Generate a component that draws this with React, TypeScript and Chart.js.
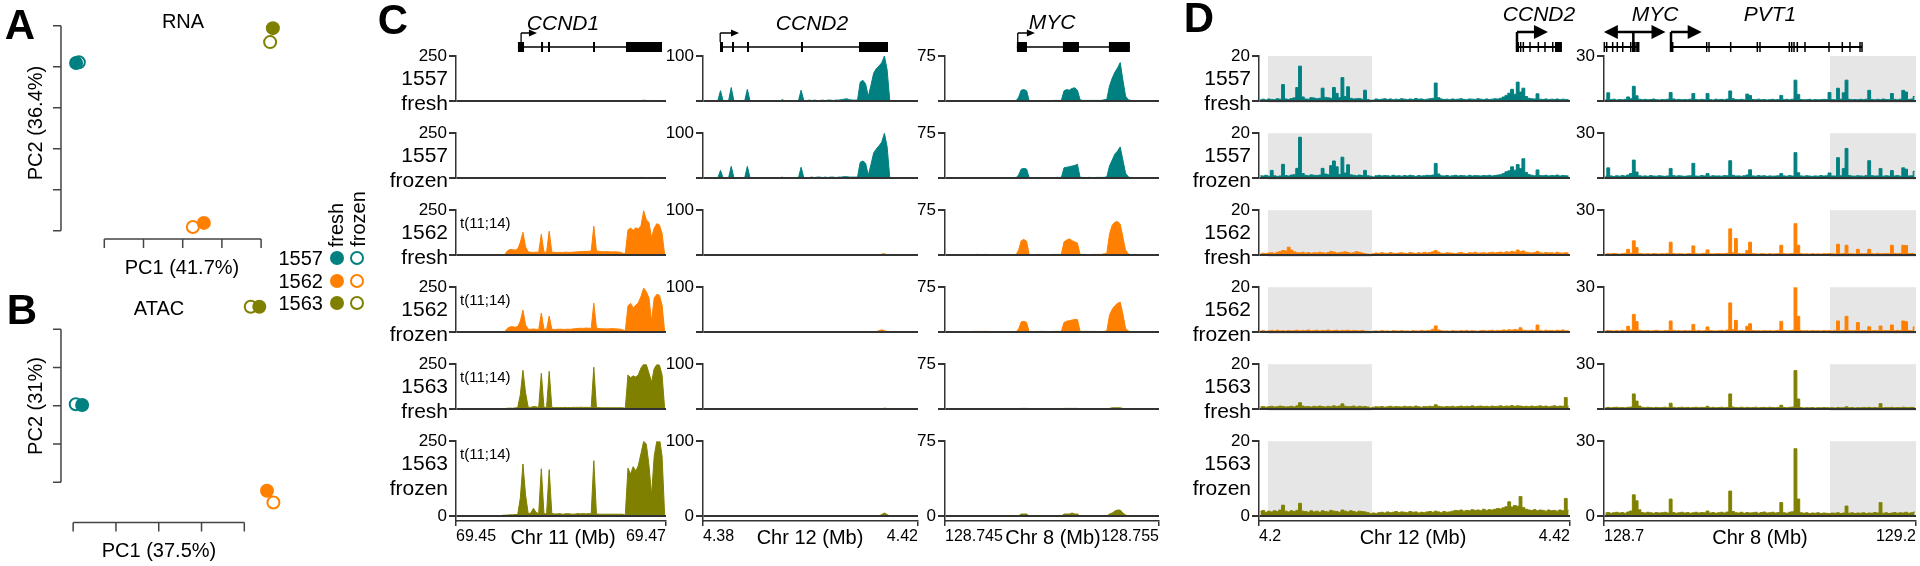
import React, { useEffect, useRef } from 'react';
import { Chart, registerables } from 'chart.js';

Chart.register(...registerables);

const FONT = '"Liberation Sans", Arial, Helvetica, sans-serif';
Chart.defaults.font.family = FONT;
Chart.defaults.color = '#000';

const TEAL = '#008080';
const ORANGE = '#ff8000';
const OLIVE = '#808000';
const SAMPLE_COLORS = [TEAL, ORANGE, OLIVE];
const ROW_COLORS = [TEAL, TEAL, ORANGE, ORANGE, OLIVE, OLIVE];

// ---------------- PCA data ----------------
const pcaSamples = ['1557', '1562', '1563'];
const rnaFreshPC1 = [-27.2, 5.4, 23.0];
const rnaFreshPC2 = [10.9, -28.1, 19.4];
const rnaFrozenPC1 = [-26.5, 2.6, 22.3];
const rnaFrozenPC2 = [11.1, -29.1, 16.0];
const atacFreshPC1 = [-17.9, 25.3, 23.5];
const atacFreshPC2 = [0.2, -22.2, 25.9];
const atacFrozenPC1 = [-19.4, 26.8, 21.5];
const atacFrozenPC2 = [0.4, -25.3, 25.9];
const pcaXTicks = [-20, -10, 0, 10, 20];
const rnaYTicks = [20, 10, 0, -10, -20, -30];
const atacYTicks = [20, 10, 0, -10, -20];

// ---------------- track rows ----------------
const trackSamples = ['1557', '1557', '1562', '1562', '1563', '1563'];
const trackConditions = ['fresh', 'frozen', 'fresh', 'frozen', 'fresh', 'frozen'];

// ---------------- C: CCND1 (chr11 69.45-69.47, 80 bins) ----------------
const ccnd1Ticks = ['69.45', '69.47'];
const c1_1557_fresh = [
  0,0,0,0,0,0,0,0,0,0, 0,0,0,0,0,0,0,0,0,0, 0,0,0,0,0,2,0,0,0,0, 0,0,1,0,0,1,0,0,0,0,
  0,0,0,0,0,0,0,0,0,0, 0,0,2,0,0,0,0,0,0,0, 0,0,0,0,0,2,3,2,3,2, 3,4,3,2,1,3,3,2,2,0];
const c1_1557_frozen = [
  0,0,0,0,0,0,0,0,0,0, 0,0,0,0,0,0,0,0,0,0, 0,0,0,0,0,1,0,0,0,0, 0,0,1,0,0,1,0,0,0,0,
  0,0,0,0,0,0,0,0,0,0, 0,0,1,0,0,0,0,0,0,0, 0,0,0,0,0,2,2,3,2,3, 3,3,2,2,1,2,3,3,2,0];
const c1_1562_fresh = [
  0,0,0,0,0,0,0,0,0,0, 0,0,0,0,0,0,0,0,0,22, 30,31,27,33,70,127,45,18,15,14, 16,15,116,17,15,133,16,15,14,15,
  14,16,15,14,16,17,18,19,20,19, 21,22,161,24,20,19,18,19,18,17, 18,17,16,10,8,140,150,138,152,145, 165,247,195,182,95,150,175,168,120,0];
const c1_1562_frozen = [
  0,0,0,0,0,0,0,0,0,0, 0,0,0,0,0,0,0,0,0,20, 28,30,26,30,60,122,40,16,15,17, 15,14,106,16,15,89,15,14,15,16,
  15,14,16,15,17,19,20,21,20,22, 21,20,161,22,19,18,18,17,18,19, 18,17,16,12,6,145,160,135,150,165, 200,245,225,190,60,190,210,205,150,0];
const c1_1563_fresh = [
  0,0,0,0,0,0,0,0,0,0, 0,0,0,0,0,0,0,2,2,4, 5,4,6,8,80,216,90,10,9,14, 12,9,199,10,8,210,9,8,8,8,
  8,9,8,8,9,9,9,10,9,9, 9,9,233,8,8,7,7,7,7,7, 7,7,7,7,4,190,175,185,178,192, 230,250,248,200,150,225,248,245,190,0];
const c1_1563_frozen = [
  0,0,0,0,0,0,0,0,0,0, 0,0,0,0,0,0,0,2,3,3, 4,4,5,5,60,174,70,8,10,26, 12,8,158,8,7,155,8,7,7,8,
  6,7,8,7,6,7,8,7,8,7, 8,7,185,7,6,6,6,6,6,6, 6,6,6,6,3,160,140,165,150,170, 210,250,240,170,70,200,250,260,200,0];

// ---------------- C: CCND2 (chr12 4.38-4.42, 80 bins) ----------------
const ccnd2Ticks = ['4.38', '4.42'];
const c2_1557_fresh = [
  0,0,0,0,0,0,23,0,0,0, 30,0,0,0,0,0,26,0,0,0, 0,0,0,0,0,0,0,0,0,3, 0,0,0,0,0,0,24,1,1,2,
  1,2,1,1,2,1,2,2,1,2, 2,3,4,5,3,2,2,2,42,46, 38,10,35,62,72,78,85,100,70,0, 0,0,0,0,0,0,0,0,0,0];
const c2_1557_frozen = [
  0,0,0,0,0,0,17,0,0,0, 26,0,0,0,0,0,26,0,0,0, 0,0,0,0,0,0,0,0,0,2, 0,0,0,0,0,0,24,1,1,1,
  2,1,2,2,1,2,1,2,2,1, 2,2,3,3,2,2,2,2,35,38, 33,6,30,56,65,72,80,100,70,0, 0,0,0,0,0,0,0,0,0,0];
const c2_1562_fresh = [
  0,0,0,0,0,0,0,0,0,0, 0,0,0,0,0,0,0,0,0,0, 0,0,0,0,0,0,0,0,0,0, 0,0,0,0,0,0,0,0,0,0,
  0,0,0,0,0,0,0,0,0,0, 0,0,0,0,0,0,0,0,0,0, 0,0,0,0,0,0,2,3,0,0, 0,0,0,0,0,0,0,0,0,0];
const c2_1562_frozen = [
  0,0,0,0,0,0,0,0,0,0, 0,0,0,0,0,0,0,0,0,0, 0,0,0,0,0,0,0,0,0,0, 0,0,0,0,0,0,0,0,0,0,
  0,0,0,0,0,0,0,0,0,0, 0,0,0,0,0,0,0,0,0,0, 0,0,0,0,1,3,5,3,1,0, 0,0,0,0,0,0,0,0,0,0];
const c2_1563_fresh = [
  0,0,0,0,0,0,0,0,0,0, 0,0,0,0,0,0,0,0,0,0, 0,0,0,0,0,0,0,0,0,0, 0,0,0,0,0,0,0,0,0,0,
  0,0,0,0,0,0,0,0,0,0, 0,0,0,0,0,0,0,0,0,0, 0,0,0,0,0,0,0,2,1,0, 0,0,0,0,0,0,0,0,0,0];
const c2_1563_frozen = [
  0,0,0,0,0,0,0,0,0,0, 0,0,0,0,0,0,0,0,0,0, 0,0,0,0,0,0,0,0,0,0, 0,0,0,0,0,0,0,0,0,0,
  0,0,0,0,0,0,0,0,0,0, 0,0,0,0,0,0,0,0,0,0, 0,0,0,0,0,0,2,4,2,0, 0,0,0,0,0,0,0,0,0,0];

// ---------------- C: MYC (chr8 128.745-128.755, 80 bins) ----------------
const mycTicks = ['128.745', '128.755'];
const c3_1557_fresh = [
  0,0,0,0,0,0,0,0,0,0, 0,0,0,0,0,0,0,0,0,0, 0,0,0,0,0,0,0,6,18,19, 17,0,0,0,1,0,0,0,0,0,
  1,1,1,1,17,19,18,21,22,18, 2,1,1,1,1,1,1,1,1,2, 3,25,38,48,55,64,35,8,2,1, 0,0,0,0,0,0,0,0,0,0];
const c3_1557_frozen = [
  0,0,0,0,0,0,0,0,0,0, 0,0,0,0,0,0,0,0,0,0, 0,0,0,0,0,0,0,5,15,16, 15,0,0,0,1,0,0,0,0,0,
  0,1,1,1,17,18,19,20,21,23, 1,1,0,1,1,0,1,1,1,1, 2,20,30,40,45,52,30,8,2,0, 0,0,0,0,0,0,0,0,0,0];
const c3_1562_fresh = [
  0,0,0,0,0,0,0,0,0,0, 0,1,1,0,1,1,0,0,0,0, 0,0,0,0,0,0,0,8,24,26, 23,0,0,0,1,1,0,0,0,0,
  1,1,1,1,22,25,27,24,22,20, 1,1,1,0,0,1,1,1,1,2, 3,35,50,55,56,52,30,8,2,0, 0,0,0,0,0,0,0,0,0,0];
const c3_1562_frozen = [
  0,0,0,0,0,0,0,0,0,0, 1,1,1,1,1,1,1,0,0,0, 0,0,0,0,0,0,0,5,17,18, 16,0,0,0,1,1,1,1,0,0,
  1,1,1,1,16,18,19,20,21,21, 1,1,1,1,1,1,1,0,0,1, 2,28,38,44,48,50,30,6,2,0, 0,0,0,0,0,0,0,0,0,0];
const c3_1563_fresh = [
  0,0,0,0,0,0,0,0,0,0, 0,0,0,0,0,0,0,0,0,0, 0,0,0,0,0,0,0,0,1,1, 1,0,0,0,0,0,0,0,0,0,
  0,0,0,0,1,1,1,1,1,1, 0,0,0,0,0,0,0,0,0,0, 0,1,2,2,2,2,1,0,0,0, 0,0,0,0,0,0,0,0,0,0];
const c3_1563_frozen = [
  0,0,0,0,0,0,0,0,0,0, 0,0,0,0,0,0,0,0,0,0, 0,0,0,0,0,0,0,0,2,2, 2,0,0,0,0,0,0,0,0,0,
  0,0,0,0,2,2,2,3,2,2, 0,0,0,0,0,0,0,0,0,0, 0,2,3,5,6,6,3,1,0,0, 0,0,0,0,0,0,0,0,0,0];

// ---------------- D: chr12 4.2-4.42 (110 bins) ----------------
const d1Ticks = ['4.2', '4.42'];
const d1Shade = [4.2064, 4.2799];
const d1_1557_fresh = [
  0.6,0.8,0.5,0.9,0.7,0.6,1.0,0.8,7.3,0.9, 0.7,1.1,1.4,6.0,15.5,1.8,0.9,0.8,1.5,1.3,
  1.0,1.2,5.7,1.6,1.4,1.2,6.0,3.4,1.5,10.4, 2.0,6.3,1.2,0.9,1.0,1.1,0.8,4.8,0.7,0.3,
  0.4,0.9,0.6,0.8,1.0,0.7,0.9,0.6,0.8,0.7, 1.0,0.8,0.6,0.9,0.7,1.1,0.8,0.9,0.6,0.8,
  1.0,1.2,8.0,1.5,0.9,0.7,0.8,0.6,0.9,0.7, 0.8,1.0,0.7,0.6,0.9,0.8,0.7,1.0,0.8,0.6,
  0.9,0.7,0.8,1.0,0.9,1.2,1.8,2.5,3.5,5.2, 3.0,8.4,4.0,5.7,2.0,1.2,1.0,0.9,3.2,0.8,
  0.7,0.9,0.6,0.8,0.7,0.9,0.6,0.8,0.7,0.6];
const d1_1557_frozen = [
  1.0,0.9,1.2,0.8,3.4,1.0,0.7,0.9,6.1,1.1, 0.9,1.3,1.5,4.3,18.2,2.0,1.2,1.0,1.4,1.2,
  1.1,1.3,4.3,1.8,1.5,5.5,7.6,5.0,1.6,9.3, 2.2,5.9,1.4,1.2,1.0,1.3,1.1,3.4,1.0,0.8,
  0.5,1.0,1.2,0.9,1.1,1.0,0.8,1.2,0.9,1.0, 0.8,1.1,0.9,1.2,1.0,0.7,1.1,0.9,1.0,1.2,
  1.1,1.3,6.5,1.8,1.0,0.9,1.1,0.8,1.0,1.2, 0.9,1.1,1.0,0.8,1.2,0.9,1.1,1.0,0.9,1.1,
  1.0,1.2,0.9,1.1,1.3,1.5,2.0,2.8,3.2,5.0, 3.5,6.0,4.2,8.6,2.5,1.5,1.2,1.0,3.6,1.1,
  1.0,1.2,0.9,1.1,1.0,1.3,0.9,1.1,1.0,0.9];
const d1_1562_fresh = [
  0.5,0.8,0.6,0.9,1.0,0.7,1.2,1.5,2.0,1.8, 3.5,2.2,1.4,1.0,0.9,1.2,0.8,1.1,0.7,1.0,
  0.9,1.2,1.0,0.8,1.1,1.6,1.3,0.9,1.0,1.2, 1.4,1.1,0.8,1.0,1.5,1.2,0.9,0.6,0.4,0.3,
  0.6,0.9,0.7,1.0,0.8,0.7,1.1,0.8,0.6,0.9, 1.0,0.8,0.7,1.1,0.9,0.6,1.0,0.8,1.2,0.9,
  1.1,1.4,2.0,1.3,0.8,0.7,1.0,0.9,0.8,0.6, 0.9,1.1,0.8,0.7,1.0,0.9,1.2,0.8,0.9,1.0,
  0.8,1.0,1.2,0.9,1.1,1.3,1.0,1.4,1.2,1.6, 1.3,2.2,1.5,1.8,1.2,1.0,0.9,1.1,1.6,1.0,
  0.8,1.1,0.9,1.0,0.7,1.2,0.9,0.8,1.0,0.9];
const d1_1562_frozen = [
  0.4,0.6,0.3,0.5,0.7,0.4,0.8,0.5,0.6,0.4, 0.7,0.5,0.6,0.8,0.5,0.7,0.6,0.9,0.5,0.6,
  0.8,0.5,0.7,0.6,0.9,0.5,0.6,0.8,0.5,0.7, 0.6,0.8,0.5,0.7,0.6,0.5,0.7,0.4,0.3,0.2,
  0.4,0.5,0.3,0.6,0.4,0.5,0.3,0.6,0.5,0.4, 0.6,0.4,0.5,0.3,0.6,0.5,0.4,0.7,0.5,0.6,
  0.7,1.2,2.7,0.9,0.6,0.4,0.5,0.3,0.6,0.5, 0.4,0.6,0.5,0.7,0.4,0.6,0.5,0.3,0.6,0.7,
  0.5,0.6,0.8,0.5,0.7,0.6,0.9,0.7,1.0,0.8, 1.1,0.9,1.9,0.8,0.7,0.6,0.8,0.6,3.1,0.7,
  0.5,0.8,0.6,0.7,0.5,0.8,0.6,0.9,0.5,0.6];
const d1_1563_fresh = [
  0.9,1.1,0.8,1.0,1.2,0.9,1.0,1.3,1.1,0.9, 1.0,1.2,0.9,1.4,2.8,1.3,1.0,1.1,0.9,1.2,
  1.0,1.3,1.1,0.9,1.2,1.0,1.4,1.1,1.3,2.3, 1.2,1.0,1.1,1.3,0.9,1.2,1.0,1.1,0.9,0.5,
  0.8,1.0,0.9,1.1,0.8,1.0,1.2,0.9,1.1,1.0, 0.9,1.2,1.0,1.1,0.9,1.3,1.0,0.8,1.1,1.0,
  1.2,1.1,1.9,1.2,1.0,0.9,1.1,1.0,1.2,0.9, 1.1,1.3,1.0,1.2,1.1,1.4,1.0,1.2,1.3,1.1,
  1.2,1.0,1.3,1.1,1.2,1.4,1.1,1.3,1.2,1.5, 1.2,1.4,1.3,1.1,1.2,1.0,1.3,1.1,1.2,1.4,
  1.1,1.3,1.0,1.2,1.4,1.1,1.3,1.2,5.1,1.2];
const d1_1563_frozen = [
  1.2,1.5,1.0,1.3,1.1,1.4,1.2,1.6,2.9,1.3, 1.1,1.4,1.2,1.5,3.4,1.3,1.2,1.0,1.4,1.1,
  1.3,1.0,1.4,1.2,1.1,1.5,1.3,1.2,1.0,1.6, 1.3,1.1,1.4,1.2,1.0,1.3,1.2,1.1,0.9,0.6,
  0.8,0.7,0.9,1.0,0.8,1.1,0.9,1.0,1.2,0.9, 1.1,1.0,0.9,1.2,1.0,1.1,0.8,1.0,0.9,1.1,
  1.2,1.0,1.3,1.1,0.9,1.2,1.0,1.1,1.3,1.5, 1.4,1.6,1.3,1.5,1.4,1.7,1.5,1.6,1.4,1.8,
  1.5,1.7,1.6,1.8,2.0,1.9,2.2,2.5,3.8,2.4, 2.8,2.6,5.2,2.3,1.8,1.6,1.5,1.7,1.4,1.6,
  1.5,1.3,1.6,1.4,1.5,1.3,1.6,1.4,4.7,1.5];

// ---------------- D: chr8 128.7-129.2 (110 bins) ----------------
const d2Ticks = ['128.7', '129.2'];
const d2Shade = [129.0622, 129.2];
const d2_1557_fresh = [
  0.8,5.5,0.9,1.2,0.7,1.0,0.8,1.1,2.7,1.5, 9.8,3.5,1.2,0.9,1.1,0.8,1.0,1.3,0.9,0.7,
  1.0,0.8,1.2,5.7,1.4,0.9,1.1,0.8,1.0,0.9, 1.2,5.0,1.0,0.8,1.1,0.9,5.0,1.0,0.7,1.2,
  0.9,1.1,0.8,1.3,6.7,1.5,1.0,0.9,1.1,0.8, 4.6,3.7,1.0,0.9,1.2,0.8,1.0,0.7,0.9,1.1,
  0.8,1.0,3.7,0.9,1.1,0.8,1.2,13.9,4.4,1.0, 0.8,0.9,1.1,0.7,1.0,0.8,0.9,1.1,1.0,5.7,
  1.0,0.8,8.5,1.2,5.5,13.9,1.1,0.9,1.0,0.8, 1.1,0.9,1.2,7.1,1.0,0.8,1.1,0.9,1.3,1.0,
  0.9,5.0,1.1,0.8,1.2,7.1,6.0,1.0,1.3,3.0];
const d2_1557_frozen = [
  1.2,6.8,1.4,1.0,1.5,1.2,1.6,1.3,2.0,3.0, 12.0,4.0,1.5,1.2,1.4,1.1,1.6,1.3,1.2,1.5,
  1.3,1.1,1.4,6.4,1.6,1.2,1.5,1.3,1.1,1.4, 1.5,9.8,1.3,1.2,1.6,1.4,3.0,1.2,1.5,1.3,
  1.4,1.2,1.6,1.5,11.6,1.8,1.3,1.4,1.2,1.5, 2.0,5.5,1.4,1.2,1.6,1.3,1.5,1.1,1.4,1.2,
  1.3,1.5,3.0,1.4,1.2,1.6,1.3,17.0,3.5,1.4, 1.2,1.5,1.3,1.1,1.4,1.2,1.6,1.3,1.5,3.4,
  1.4,1.3,13.6,1.5,6.4,19.8,1.6,1.3,1.2,1.5, 1.4,1.2,1.6,11.6,1.5,1.3,1.4,6.4,1.2,1.5,
  1.3,5.0,1.4,1.6,1.2,6.8,5.9,1.4,1.5,4.5];
const d2_1562_fresh = [
  0.6,0.9,0.7,1.0,0.8,0.6,0.9,1.1,3.8,1.2, 9.5,5.0,1.0,0.8,0.7,0.9,0.6,1.0,0.8,0.7,
  0.9,0.8,1.1,8.6,1.0,0.7,0.9,0.8,0.6,0.9, 1.0,6.1,0.8,0.7,0.9,1.1,3.4,0.8,0.7,0.9,
  1.0,0.8,0.9,1.2,17.5,1.5,11.0,1.0,0.8,0.9, 3.0,8.6,1.1,0.8,0.7,0.9,0.8,0.6,0.9,0.7,
  0.8,1.0,6.5,0.9,0.7,0.8,1.0,21.0,6.5,0.9, 0.7,0.8,0.6,0.9,0.7,0.8,0.6,0.9,0.8,1.0,
  0.9,0.7,7.2,0.8,1.0,6.5,0.9,0.8,0.7,3.8, 0.9,0.8,1.0,3.8,0.9,0.7,1.1,0.8,0.9,1.0,
  0.8,6.5,1.0,0.9,1.1,6.5,6.3,0.9,1.0,0.8];
const d2_1562_frozen = [
  0.7,1.0,0.8,0.6,0.9,0.7,1.1,0.8,3.8,1.3, 11.8,7.0,1.2,0.9,0.8,1.0,0.7,0.9,1.1,0.8,
  0.7,0.9,1.0,7.4,1.1,0.8,0.9,0.7,1.0,0.8, 0.9,5.1,0.8,1.0,0.7,0.9,3.4,1.0,0.8,0.7,
  0.9,1.1,0.8,1.3,19.5,1.6,7.8,0.9,1.0,0.8, 3.8,5.5,1.0,0.8,0.9,0.7,1.0,0.8,0.9,0.7,
  0.9,1.1,7.1,1.0,0.8,0.9,1.2,31.0,10.5,1.0, 0.8,0.9,0.7,1.0,0.8,0.9,0.7,1.0,0.8,0.9,
  0.7,1.0,7.4,0.9,1.1,10.5,1.0,0.8,0.9,6.3, 0.8,1.0,0.9,3.5,0.8,1.0,0.9,4.0,0.8,1.0,
  0.9,4.7,0.8,1.1,0.9,7.4,6.9,1.0,0.8,3.4];
const d2_1563_fresh = [
  0.9,1.1,0.8,1.0,1.2,0.9,1.0,0.8,1.1,1.3, 10.1,5.3,2.0,1.1,0.9,1.2,1.0,0.8,1.1,0.9,
  1.0,1.2,0.9,3.9,1.1,0.8,1.0,1.2,0.9,1.1, 0.8,1.0,1.2,0.9,1.1,1.0,1.8,0.9,1.1,0.8,
  1.0,1.2,0.9,1.1,10.1,1.3,1.0,0.9,1.2,0.8, 1.1,0.9,1.0,1.2,0.8,1.0,1.1,0.9,1.2,1.0,
  0.9,1.1,2.5,1.0,0.8,1.1,1.3,25.8,6.7,1.0, 0.7,0.9,0.8,1.0,0.7,0.9,0.8,1.0,0.9,0.8,
  0.9,0.7,1.0,0.8,0.9,1.5,0.8,1.0,0.7,0.9, 0.8,1.0,0.9,1.1,0.8,1.0,0.9,3.6,0.8,1.0,
  0.9,1.1,0.8,1.0,0.9,1.2,1.0,0.9,1.1,1.0];
const d2_1563_frozen = [
  1.2,1.4,1.1,1.3,1.5,1.2,1.4,1.1,1.6,2.0, 8.5,6.1,2.5,1.4,1.2,1.5,1.3,1.1,1.4,1.2,
  1.3,1.5,1.2,6.8,1.4,1.1,1.3,1.5,1.2,1.4, 1.1,1.3,1.5,1.2,1.4,1.3,2.0,1.2,1.4,1.1,
  1.3,1.5,1.2,1.6,10.0,1.8,1.3,1.2,1.5,1.1, 1.4,1.2,1.3,1.5,1.1,1.4,1.6,1.2,1.3,1.5,
  1.2,1.4,5.4,1.3,1.1,1.5,1.7,27.0,6.8,1.3, 1.1,1.3,1.0,1.2,1.1,1.3,1.0,1.2,1.1,1.0,
  1.2,1.1,1.3,1.0,1.2,4.0,1.1,1.3,1.0,1.2, 1.1,1.3,1.0,1.2,1.1,1.4,1.2,5.4,1.1,1.3,
  1.0,1.2,1.4,1.1,1.3,1.2,1.5,1.1,1.3,1.6];

// ---------------- gene models (genomic coordinates, Mb) ----------------
const geneCCND1 = {
  style: 'C',
  lines: [[69.4559, 69.46962]],
  boxes: [[69.4559, 69.45648], [69.4581, 69.45818], [69.45876, 69.45884], [69.46305, 69.46313], [69.46619, 69.46962]],
  ticks: [],
  arrows: [{ stem: 69.4562, x0: 69.4562, x1: 69.45771 }],
};
const geneCCND2c = {
  style: 'C',
  lines: [[4.38316, 4.41442]],
  boxes: [[4.38316, 4.38372], [4.3854, 4.38549], [4.38819, 4.38828], [4.39823, 4.39832], [4.40902, 4.41442]],
  ticks: [],
  arrows: [{ stem: 4.3832, x0: 4.3832, x1: 4.3867 }],
};
const geneMYCc = {
  style: 'C',
  lines: [[128.74836, 128.75364]],
  boxes: [[128.74836, 128.74883], [128.75051, 128.75126], [128.75266, 128.75364]],
  ticks: [],
  arrows: [{ stem: 128.7484, x0: 128.7484, x1: 128.7492 }],
};
const geneCCND2d = {
  style: 'D',
  lines: [[4.3825, 4.4143]],
  boxes: [[4.4094, 4.4143]],
  ticks: [4.3834, 4.3851, 4.387, 4.3917, 4.3976, 4.4023, 4.4078],
  arrows: [{ stem: 4.3825, x0: 4.3825, x1: 4.4044 }],
};
const geneMYCPVT1d = {
  style: 'D',
  lines: [[128.7005, 128.7556], [128.8074, 129.1135]],
  boxes: [],
  ticks: [128.7005, 128.7043, 128.7139, 128.7213, 128.73, 128.7428, 128.746, 128.7486, 128.7513, 128.7534, 128.7556,
    128.8074, 128.8101, 128.8646, 128.8683, 128.903, 128.9457, 128.95, 128.997, 129.0008, 129.0045, 129.0098,
    129.0221, 129.0606, 129.0819, 129.0942, 129.1103, 129.1135],
  arrows: [{ stem: 128.747, x0: 128.6998, x1: 128.7986, double: true }, { stem: 128.8074, x0: 128.8074, x1: 128.8566 }],
};

// ---------------- layout ----------------
const ROW_TOPS = [56, 133, 210, 287, 364, 441];
const ROW_H = 75;
const AXIS_W = 46;

const columns: any[] = [
  { axisX: 456, rightX: 666, min: 69.45, max: 69.47, yMax: 250, tickLabels: ccnd1Ticks, title: 'Chr 11 (Mb)', titleX: 563,
    tracks: [c1_1557_fresh, c1_1557_frozen, c1_1562_fresh, c1_1562_frozen, c1_1563_fresh, c1_1563_frozen], gene: geneCCND1, stepped: false, rowLabels: true, trans: true },
  { axisX: 703, rightX: 918, min: 4.38, max: 4.42, yMax: 100, tickLabels: ccnd2Ticks, title: 'Chr 12 (Mb)', titleX: 810,
    tracks: [c2_1557_fresh, c2_1557_frozen, c2_1562_fresh, c2_1562_frozen, c2_1563_fresh, c2_1563_frozen], gene: geneCCND2c, stepped: false },
  { axisX: 945, rightX: 1159, min: 128.745, max: 128.755, yMax: 75, tickLabels: mycTicks, title: 'Chr 8 (Mb)', titleX: 1053,
    tracks: [c3_1557_fresh, c3_1557_frozen, c3_1562_fresh, c3_1562_frozen, c3_1563_fresh, c3_1563_frozen], gene: geneMYCc, stepped: false },
  { axisX: 1259, rightX: 1570, min: 4.2, max: 4.42, yMax: 20, tickLabels: d1Ticks, title: 'Chr 12 (Mb)', titleX: 1413,
    tracks: [d1_1557_fresh, d1_1557_frozen, d1_1562_fresh, d1_1562_frozen, d1_1563_fresh, d1_1563_frozen], gene: geneCCND2d, stepped: true, rowLabels: true, shade: d1Shade },
  { axisX: 1604, rightX: 1916, min: 128.7, max: 129.2, yMax: 30, tickLabels: d2Ticks, title: 'Chr 8 (Mb)', titleX: 1760,
    tracks: [d2_1557_fresh, d2_1557_frozen, d2_1562_fresh, d2_1562_frozen, d2_1563_fresh, d2_1563_frozen], gene: geneMYCPVT1d, stepped: true, shade: d2Shade },
];

// ---------------- plugins ----------------
function rAxesPlugin(xTicks: number[], yTicks: number[], yAxisAt: number, xAxisAt: number) {
  return {
    id: 'raxes',
    afterDraw(chart: any) {
      const ctx = chart.ctx, xs = chart.scales.x, ys = chart.scales.y;
      ctx.save();
      ctx.strokeStyle = '#444';
      ctx.lineWidth = 1.5;
      ctx.beginPath();
      const X0 = xs.getPixelForValue(yAxisAt);
      ctx.moveTo(X0, ys.getPixelForValue(yTicks[0]));
      ctx.lineTo(X0, ys.getPixelForValue(yTicks[yTicks.length - 1]));
      yTicks.forEach((t) => { const y = ys.getPixelForValue(t); ctx.moveTo(X0 - 8, y); ctx.lineTo(X0, y); });
      const Y0 = ys.getPixelForValue(xAxisAt);
      ctx.moveTo(xs.getPixelForValue(xTicks[0]), Y0);
      ctx.lineTo(xs.getPixelForValue(xTicks[xTicks.length - 1]), Y0);
      xTicks.forEach((t) => { const x = xs.getPixelForValue(t); ctx.moveTo(x, Y0); ctx.lineTo(x, Y0 + 9); });
      ctx.stroke();
      ctx.restore();
    },
  };
}

function shadePlugin(range: number[], isLast: boolean) {
  return {
    id: 'shade',
    beforeDatasetsDraw(chart: any) {
      const { ctx, chartArea } = chart;
      const xs = chart.scales.x, ys = chart.scales.y;
      const x0 = xs.getPixelForValue(range[0]);
      const x1 = Math.min(xs.getPixelForValue(range[1]), chartArea.right);
      const y0 = chartArea.top;
      const y1 = isLast ? ys.getPixelForValue(0) : chartArea.bottom + 2;
      ctx.save();
      ctx.fillStyle = '#e6e6e6';
      ctx.fillRect(x0, y0, x1 - x0, y1 - y0);
      ctx.restore();
    },
  };
}

function genePlugin(gene: any) {
  return {
    id: 'gene',
    afterDraw(chart: any) {
      const ctx = chart.ctx, xs = chart.scales.x, top = chart.chartArea.top;
      const X = (v: number) => xs.getPixelForValue(v);
      const big = gene.style === 'D';
      const lineY = top - 9;
      const arrowY = big ? top - 24 : top - 23;
      const stemBottom = big ? top - 4 : top - 14;
      const headLen = big ? 14 : 8;
      const headHalf = big ? 7 : 3.5;
      ctx.save();
      ctx.strokeStyle = '#000';
      ctx.fillStyle = '#000';
      ctx.lineWidth = big ? 1.8 : 1.5;
      gene.lines.forEach((s: number[]) => {
        ctx.beginPath(); ctx.moveTo(X(s[0]), lineY); ctx.lineTo(X(s[1]), lineY); ctx.stroke();
      });
      gene.boxes.forEach((b: number[]) => {
        const x0 = X(b[0]);
        const w = Math.max(X(b[1]) - x0, 2);
        ctx.fillRect(x0, top - 14, w, 10);
      });
      ctx.lineWidth = 1.5;
      gene.ticks.forEach((t: number) => {
        ctx.beginPath(); ctx.moveTo(X(t), top - 14); ctx.lineTo(X(t), top - 4); ctx.stroke();
      });
      const head = (x: number, dir: number) => {
        ctx.beginPath();
        ctx.moveTo(x, arrowY);
        ctx.lineTo(x - dir * headLen, arrowY - headHalf);
        ctx.lineTo(x - dir * headLen, arrowY + headHalf);
        ctx.closePath();
        ctx.fill();
      };
      ctx.lineWidth = big ? 2.5 : 1.3;
      gene.arrows.forEach((a: any) => {
        const xs0 = X(a.stem), x0 = X(a.x0), x1 = X(a.x1);
        const dir = x1 >= x0 ? 1 : -1;
        ctx.beginPath();
        ctx.moveTo(xs0, stemBottom); ctx.lineTo(xs0, arrowY);
        ctx.moveTo(a.double ? x0 + dir * headLen * 0.6 : x0, arrowY);
        ctx.lineTo(x1 - dir * headLen * 0.6, arrowY);
        ctx.stroke();
        head(x1, dir);
        if (a.double) head(x0, -dir);
      });
      ctx.restore();
    },
  };
}

// ---------------- configs ----------------
function trackBox(col: any, r: number) {
  const isFirst = r === 0, isLast = r === 5;
  const padTop = isFirst ? ROW_TOPS[0] : 12;
  const top = ROW_TOPS[r] - padTop;
  const height = isLast ? padTop + ROW_H + 5 + 30 : padTop + ROW_H + 11;
  const left = col.axisX - AXIS_W;
  const width = col.rightX - col.axisX + AXIS_W + 8;
  return { left, top, width, height, padTop };
}

function trackConfig(col: any, r: number, values: number[], color: string, padTop: number) {
  const isFirst = r === 0, isLast = r === 5;
  const step = (col.max - col.min) / values.length;
  const pts = values.map((v, i) => ({ x: col.min + (i + 0.5) * step, y: v }));
  const plugins: any[] = [];
  if (col.shade) plugins.push(shadePlugin(col.shade, isLast));
  if (isFirst && col.gene) plugins.push(genePlugin(col.gene));
  return {
    type: 'line',
    data: {
      datasets: [{
        data: pts, borderColor: color, backgroundColor: color, borderWidth: 1, fill: 'origin',
        pointRadius: 0, stepped: col.stepped ? 'middle' : false, tension: 0,
      }],
    },
    options: {
      responsive: false, animation: false, events: [],
      layout: { padding: { left: 0, right: 8, top: padTop, bottom: isLast ? 0 : 11 } },
      plugins: { legend: { display: false }, tooltip: { enabled: false } },
      scales: {
        x: {
          type: 'linear', min: col.min, max: col.max, display: isLast,
          afterBuildTicks: (s: any) => { s.ticks = [{ value: col.min }, { value: col.max }]; },
          afterFit: (s: any) => { s.height = 30; },
          ticks: {
            callback: (_v: any, i: number) => col.tickLabels[i], align: 'inner', maxRotation: 0, minRotation: 0,
            autoSkip: false, padding: 1, font: { size: 16, family: FONT }, color: '#000',
          },
          grid: { drawOnChartArea: false, drawTicks: true, tickLength: 5, color: '#333', lineWidth: 1.5 },
          border: { display: true, color: '#333', width: 1.5 },
        },
        y: {
          type: 'linear', min: isLast ? -col.yMax * 5 / ROW_H : 0, max: col.yMax, position: 'left',
          afterBuildTicks: (s: any) => { s.ticks = [{ value: 0 }, { value: col.yMax }]; },
          afterFit: (s: any) => { s.width = AXIS_W; },
          ticks: {
            callback: (v: any) => (v === col.yMax ? String(col.yMax) : (isLast ? '0' : '')),
            padding: 2, font: { size: 17, family: FONT }, color: '#000', autoSkip: false,
          },
          grid: {
            z: 1, drawOnChartArea: true, drawTicks: true, tickLength: 7, lineWidth: 2, tickColor: '#333',
            color: (ctx: any) => (ctx.tick && ctx.tick.value === 0 ? '#333' : 'rgba(0,0,0,0)'),
          },
          border: { display: true, color: '#333', width: 1.5, z: 1 },
        },
      },
    },
    plugins,
  };
}

function pcaConfig(p: any) {
  const fresh = p.fx.map((x: number, i: number) => ({ x, y: p.fy[i] }));
  const frozen = p.ox.map((x: number, i: number) => ({ x, y: p.oy[i] }));
  return {
    type: 'scatter',
    data: {
      labels: pcaSamples,
      datasets: [
        { data: fresh, pointRadius: 7, pointBackgroundColor: SAMPLE_COLORS, pointBorderColor: SAMPLE_COLORS, pointBorderWidth: 0, clip: false },
        { data: frozen, pointRadius: 6, pointBackgroundColor: '#ffffff', pointBorderColor: SAMPLE_COLORS, pointBorderWidth: 2, clip: false },
      ],
    },
    options: {
      responsive: false, animation: false, events: [],
      layout: { padding: p.pad },
      plugins: { legend: { display: false }, tooltip: { enabled: false } },
      scales: {
        x: { type: 'linear', min: p.xmin, max: p.xmax, display: false },
        y: { type: 'linear', min: p.ymin, max: p.ymax, display: false },
      },
    },
    plugins: [rAxesPlugin(p.xTicks, p.yTicks, p.yAxisAt, p.xAxisAt)],
  };
}

// ---------------- components ----------------
function ChartCanvas(props: any) {
  const { left, top, width, height, config } = props;
  const ref = useRef<HTMLCanvasElement | null>(null);
  useEffect(() => {
    if (!ref.current) return;
    const chart = new Chart(ref.current, config);
    return () => chart.destroy();
  }, []);
  return (
    <canvas ref={ref} width={width} height={height}
      style={{ position: 'absolute', left, top, width, height, display: 'block' }} />
  );
}

function T(props: any) {
  const { x, y, children, size = 20, align = 'center', rotate = false, italic = false, bold = false } = props;
  const tx = align === 'center' ? '-50%' : align === 'right' ? '-100%' : '0%';
  return (
    <div style={{
      position: 'absolute', left: x, top: y,
      transform: `translate(${tx}, -50%)${rotate ? ' rotate(-90deg)' : ''}`,
      fontSize: size, lineHeight: 1, whiteSpace: 'nowrap',
      fontStyle: italic ? 'italic' : 'normal', fontWeight: bold ? 'bold' : 'normal',
    }}>{children}</div>
  );
}

function Dot(props: any) {
  const { x, y, color, open } = props;
  return (
    <div style={{
      position: 'absolute', left: x - 7, top: y - 7, width: 14, height: 14, borderRadius: '50%',
      boxSizing: 'border-box', background: open ? '#fff' : color, border: open ? `2px solid ${color}` : 'none',
    }} />
  );
}

export default function App() {
  useEffect(() => { document.body.style.margin = '0'; }, []);

  const rnaCfg = pcaConfig({
    fx: rnaFreshPC1, fy: rnaFreshPC2, ox: rnaFrozenPC1, oy: rnaFrozenPC2,
    xmin: -35, xmax: 30, ymin: -34, ymax: 22,
    pad: { left: 45.5, right: 29.7, top: 17.5, bottom: 35.9 },
    xTicks: pcaXTicks, yTicks: rnaYTicks, yAxisAt: -31.05, xAxisAt: -32,
  });
  const atacCfg = pcaConfig({
    fx: atacFreshPC1, fy: atacFreshPC2, ox: atacFrozenPC1, oy: atacFrozenPC2,
    xmin: -26, xmax: 30, ymin: -32, ymax: 30,
    pad: { left: 47.5, right: 42.9, top: 5.9, bottom: 37.8 },
    xTicks: pcaXTicks, yTicks: atacYTicks, yAxisAt: -22.85, xAxisAt: -30.5,
  });

  const legendRows = [258, 281, 303];

  return (
    <div style={{
      position: 'absolute', left: 0, top: 0, width: 1920, height: 566, overflow: 'hidden',
      background: '#fff', fontFamily: FONT, color: '#000',
    }}>
      {/* Panel A / B */}
      <ChartCanvas left={0} top={0} width={330} height={283} config={rnaCfg} />
      <ChartCanvas left={0} top={283} width={330} height={283} config={atacCfg} />
      <T x={20} y={25} size={42} bold>A</T>
      <T x={22} y={310} size={42} bold>B</T>
      <T x={183} y={21}>RNA</T>
      <T x={35} y={123} rotate>PC2 (36.4%)</T>
      <T x={182} y={267}>PC1 (41.7%)</T>
      <T x={159} y={308}>ATAC</T>
      <T x={35} y={406} rotate>PC2 (31%)</T>
      <T x={159} y={550}>PC1 (37.5%)</T>
      {/* legend */}
      <T x={336} y={225} rotate>fresh</T>
      <T x={358} y={219} rotate>frozen</T>
      {pcaSamples.map((s, i) => (
        <React.Fragment key={'lg' + s}>
          <T x={323} y={legendRows[i]} align="right">{s}</T>
          <Dot x={337} y={legendRows[i]} color={SAMPLE_COLORS[i]} />
          <Dot x={357} y={legendRows[i]} color={SAMPLE_COLORS[i]} open />
        </React.Fragment>
      ))}

      {/* Panel C / D tracks */}
      {columns.map((col, ci) => col.tracks.map((vals: number[], r: number) => {
        const b = trackBox(col, r);
        return (
          <ChartCanvas key={`t${ci}-${r}`} left={b.left} top={b.top} width={b.width} height={b.height}
            config={trackConfig(col, r, vals, ROW_COLORS[r], b.padTop)} />
        );
      }))}

      {columns.map((col, ci) => (
        <React.Fragment key={'lab' + ci}>
          {col.rowLabels && trackSamples.map((s, r) => (
            <React.Fragment key={'rl' + ci + r}>
              <T x={col.axisX - 8} y={ROW_TOPS[r] + 21} size={21} align="right">{s}</T>
              <T x={col.axisX - 8} y={ROW_TOPS[r] + 46} size={21} align="right">{trackConditions[r]}</T>
            </React.Fragment>
          ))}
          {col.trans && [2, 3, 4, 5].map((r) => (
            <T key={'tr' + r} x={col.axisX + 4} y={ROW_TOPS[r] + 12} size={15} align="left">t(11;14)</T>
          ))}
          <T x={col.titleX} y={537}>{col.title}</T>
        </React.Fragment>
      ))}

      <T x={393} y={20} size={42} bold>C</T>
      <T x={1199} y={18} size={42} bold>D</T>
      <T x={563} y={22} size={21} italic>CCND1</T>
      <T x={812} y={22} size={21} italic>CCND2</T>
      <T x={1052} y={21} size={21} italic>MYC</T>
      <T x={1539} y={13} size={21} italic>CCND2</T>
      <T x={1655} y={13} size={21} italic>MYC</T>
      <T x={1770} y={13} size={21} italic>PVT1</T>
    </div>
  );
}
